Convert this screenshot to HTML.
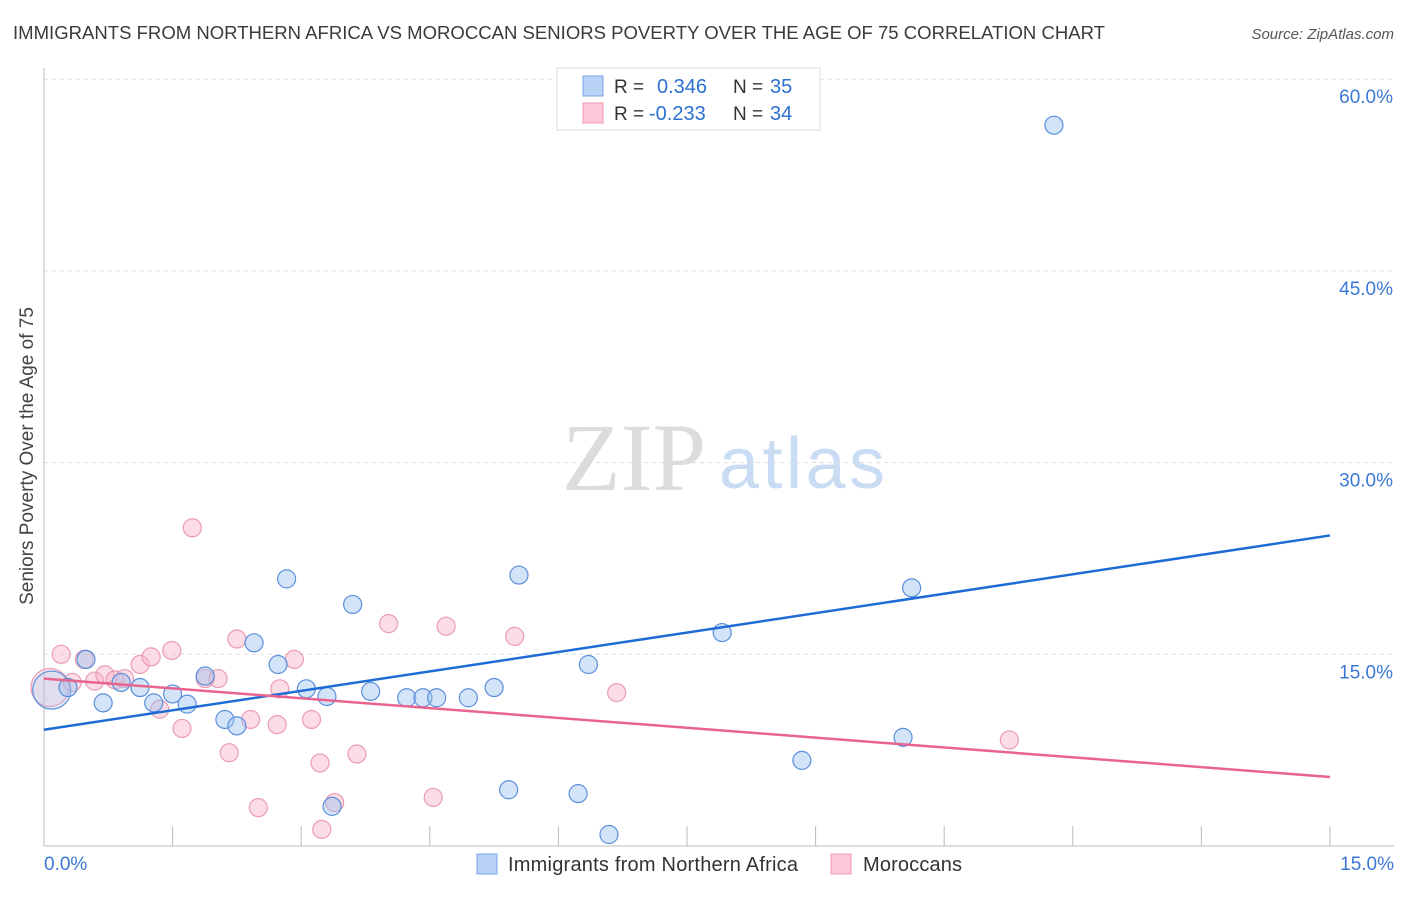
<!DOCTYPE html>
<html><head><meta charset="utf-8"><style>
body{margin:0;background:#fff;width:1406px;height:892px;overflow:hidden;font-family:"Liberation Sans",sans-serif}
</style></head><body>
<svg id="chart" width="1406" height="892" xmlns="http://www.w3.org/2000/svg" font-family="Liberation Sans, sans-serif">
<text x="13" y="39" font-size="18" fill="#3a3a3a" textLength="1092" lengthAdjust="spacingAndGlyphs">IMMIGRANTS FROM NORTHERN AFRICA VS MOROCCAN SENIORS POVERTY OVER THE AGE OF 75 CORRELATION CHART</text>
<text x="1394" y="39" font-size="15" fill="#555" font-style="italic" text-anchor="end">Source: ZipAtlas.com</text>
<text transform="translate(33,456) rotate(-90)" font-size="19" fill="#444" text-anchor="middle">Seniors Poverty Over the Age of 75</text>
<g>
<text x="634" y="490" font-size="96" fill="#dcdcdc" font-family="Liberation Serif, serif" text-anchor="middle">ZIP</text>
<text x="802" y="488" font-size="72" fill="#c9dcf3" text-anchor="middle" textLength="166">atlas</text>
</g>
<g id="grid"></g><g id="axes"></g><g id="pts"></g><g id="lines"></g>
<g>
<rect x="557" y="68" width="263" height="62" fill="#fff" stroke="#ddd"/>
<rect x="583" y="76" width="20" height="20" fill="#b8d3f5" stroke="#7aa6e6"/>
<rect x="583" y="103" width="20" height="20" fill="#fcc8d8" stroke="#f09ab4"/>
<text x="614" y="93" font-size="19" fill="#333">R =</text><text x="657" y="93" font-size="20" fill="#2c6fd1">0.346</text>
<text x="733" y="93" font-size="19" fill="#333">N =</text><text x="770" y="93" font-size="20" fill="#2c6fd1">35</text>
<text x="614" y="120" font-size="19" fill="#333">R =</text><text x="649" y="120" font-size="20" fill="#2c6fd1">-0.233</text>
<text x="733" y="120" font-size="19" fill="#333">N =</text><text x="770" y="120" font-size="20" fill="#2c6fd1">34</text>
</g>
<g>
<rect x="477" y="854" width="20" height="20" fill="#b8d3f5" stroke="#7aa6e6"/>
<text x="508" y="871" font-size="20" fill="#333" textLength="290">Immigrants from Northern Africa</text>
<rect x="831" y="854" width="20" height="20" fill="#fcc8d8" stroke="#f09ab4"/>
<text x="863" y="871" font-size="20" fill="#333" textLength="99">Moroccans</text>
</g>
</svg>
<script>
const xTicks=[0,1.5,3,4.5,6,7.5,9,10.5,12,13.5,15];
const yTicks=[15,30,45,60];
const yTickLabels=["15.0%","30.0%","45.0%","60.0%"];
const blueX=[0.09,0.28,0.49,0.69,0.90,1.12,1.28,1.50,1.67,1.88,2.11,2.25,2.45,2.73,2.83,3.06,3.30,3.36,3.60,3.81,4.23,4.42,4.58,4.95,5.25,5.42,5.54,6.23,6.35,6.59,7.91,8.84,10.02,10.12,11.78];
const blueY=[12.2,12.4,14.6,11.2,12.8,12.4,11.2,11.9,11.1,13.3,9.9,9.4,15.9,14.2,20.9,12.3,11.7,3.1,18.9,12.1,11.6,11.6,11.6,11.6,12.4,4.4,21.2,4.1,14.2,0.9,16.7,6.7,8.5,20.2,56.4];
const pinkX=[0.07,0.20,0.33,0.59,0.47,0.71,0.83,0.94,1.12,1.25,1.35,1.49,1.61,1.73,1.88,2.03,2.16,2.25,2.41,2.50,2.72,2.75,2.92,3.12,3.22,3.24,3.39,3.65,4.02,4.54,4.69,5.49,6.68,11.26];
const pinkY=[12.4,15.0,12.8,12.9,14.6,13.4,13.0,13.1,14.2,14.8,10.7,15.3,9.2,24.9,13.1,13.1,7.3,16.2,9.9,3.0,9.5,12.3,14.6,9.9,6.5,1.3,3.4,7.2,17.4,3.8,17.2,16.4,12.0,8.3];
const blueTrend=[9.1,24.3];
const pinkTrend=[13.1,5.4];
const X=v=>44+v/15*1286, Y=v=>846-v*12.78;
const NS="http://www.w3.org/2000/svg";
function mk(tag,attrs,parent){const e=document.createElementNS(NS,tag);for(const k in attrs)e.setAttribute(k,attrs[k]);parent.appendChild(e);return e;}
const grid=document.getElementById('grid'),axes=document.getElementById('axes'),pts=document.getElementById('pts'),lines=document.getElementById('lines');
yTicks.forEach((t,i)=>{
 const g=mk('line',{x1:44,x2:1394,y1:Y(t),y2:Y(t),stroke:'#ddd','stroke-dasharray':'4,4'},grid);
 
 
 const l=mk('text',{x:1393,y:Y(t)+24,'font-size':19,fill:'#3b78d4','text-anchor':'end'},axes);
 l.textContent=yTickLabels[i];
 
 
});
const ya=mk('line',{x1:44,x2:44,y1:68,y2:846,stroke:'#bbb'},axes);


const xa=mk('line',{x1:44,x2:1394,y1:846,y2:846,stroke:'#bbb'},axes);


xTicks.forEach(t=>{
 const tk=mk('line',{x1:X(t),x2:X(t),y1:826,y2:846,stroke:'#bbb'},axes);
 
 
});
[["0.0%",44,'start'],["15.0%",1394,'end']].forEach(a=>{
 const l=mk('text',{x:a[1],y:870,'font-size':19,fill:'#3b78d4','text-anchor':a[2]},axes);
 l.textContent=a[0];
 
 
});
function dots(xs,ys,fill,bigfill,stroke,name){
 xs.forEach((x,i)=>{
  const c=mk('circle',{cx:X(x),cy:Y(ys[i]),r:i===0?19:9,fill:i===0?bigfill:fill,stroke:stroke,'stroke-width':1.2},pts);
  
  
 });
}
dots(pinkX,pinkY,'rgba(248,180,200,0.45)','rgba(248,180,200,0.3)','#eb9bb4','moroccans-point');
dots(blueX,blueY,'rgba(160,195,240,0.45)','rgba(160,195,240,0.3)','#5a8fdc','immigrants-point');
const bl=mk('line',{x1:X(0),y1:Y(blueTrend[0]),x2:X(15),y2:Y(blueTrend[1]),stroke:'#1f6bd6','stroke-width':2.5},lines);


const pl=mk('line',{x1:X(0),y1:Y(pinkTrend[0]),x2:X(15),y2:Y(pinkTrend[1]),stroke:'#e8648e','stroke-width':2.5},lines);


</script>
</body></html>
